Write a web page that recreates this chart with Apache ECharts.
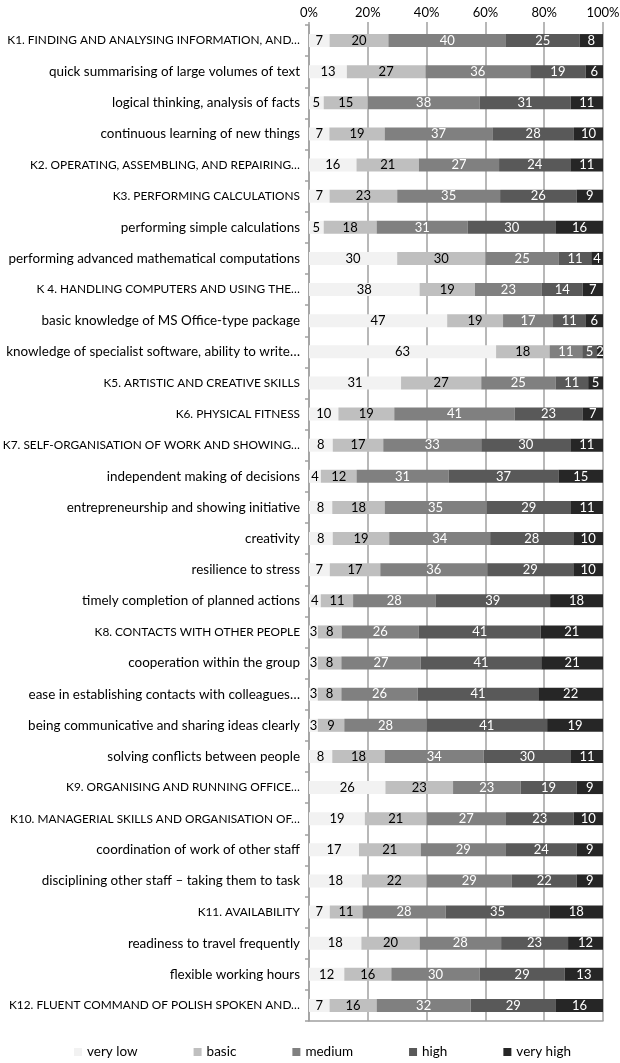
<!DOCTYPE html>
<html>
<head>
<meta charset="utf-8">
<script src="https://cdn.jsdelivr.net/npm/echarts@6/dist/echarts.min.js"></script>
<style>
html,body{margin:0;padding:0;background:#fff;}
#chart{width:620px;height:1063px;}
</style>
</head>
<body>
<div id="chart"></div>
<script>
const categories = [
  "K1. FINDING AND ANALYSING INFORMATION, AND…",
  "quick summarising of large volumes of text",
  "logical thinking, analysis of facts",
  "continuous learning of new things",
  "K2. OPERATING, ASSEMBLING, AND REPAIRING…",
  "K3. PERFORMING CALCULATIONS",
  "performing simple calculations",
  "performing advanced mathematical computations",
  "K 4. HANDLING COMPUTERS AND USING THE…",
  "basic knowledge of MS Office-type package",
  "knowledge of specialist software, ability to write…",
  "K5. ARTISTIC AND CREATIVE SKILLS",
  "K6. PHYSICAL FITNESS",
  "K7. SELF-ORGANISATION OF WORK AND SHOWING…",
  "independent making of decisions",
  "entrepreneurship and showing initiative",
  "creativity",
  "resilience to stress",
  "timely completion of planned actions",
  "K8. CONTACTS WITH OTHER PEOPLE",
  "cooperation within the group",
  "ease in establishing contacts with colleagues…",
  "being communicative and sharing ideas clearly",
  "solving conflicts between people",
  "K9. ORGANISING AND RUNNING OFFICE…",
  "K10. MANAGERIAL SKILLS AND ORGANISATION OF…",
  "coordination of work of other staff",
  "disciplining other staff – taking them to task",
  "K11. AVAILABILITY",
  "readiness to travel frequently",
  "flexible working hours",
  "K12. FLUENT COMMAND OF POLISH SPOKEN AND…"
];
const seriesNames = ["very low", "basic", "medium", "high", "very high"];
const veryLow  = [7,13,5,7,16,7,5,30,38,47,63,31,10,8,4,8,8,7,4,3,3,3,3,8,26,19,17,18,7,18,12,7];
const basic    = [20,27,15,19,21,23,18,30,19,19,18,27,19,17,12,18,19,17,11,8,8,8,9,18,23,21,21,22,11,20,16,16];
const medium   = [40,36,38,37,27,35,31,25,23,17,11,25,41,33,31,35,34,36,28,26,27,26,28,34,23,27,29,29,28,28,30,32];
const high     = [25,19,31,28,24,26,30,11,14,11,5,11,23,30,37,29,28,29,39,41,41,41,41,30,19,23,24,22,35,23,29,29];
const veryHigh = [8,6,11,10,11,9,16,4,7,6,2,5,7,11,15,11,10,10,18,21,21,22,19,11,9,10,9,9,18,12,13,16];
const xTicks = [0, 20, 40, 60, 80, 100];

const raw = [veryLow, basic, medium, high, veryHigh];
const colors = ["#f2f2f2", "#bfbfbf", "#808080", "#595959", "#262626"];
const labelColors = ["#000", "#000", "#fff", "#fff", "#fff"];
const FONT = "Lato";

const rowSums = categories.map((_, i) => raw.reduce((s, arr) => s + arr[i], 0));

const series = raw.map((arr, k) => ({
  name: seriesNames[k],
  type: "bar",
  stack: "total",
  barWidth: 13,
  itemStyle: { color: colors[k] },
  label: {
    show: true,
    position: "inside",
    color: labelColors[k],
    fontFamily: FONT,
    fontSize: 13,
    formatter: p => String(arr[p.dataIndex])
  },
  data: arr.map((v, i) => v / rowSums[i] * 100)
}));

const chart = echarts.init(document.getElementById("chart"), null, { renderer: "canvas" });
chart.setOption({
  animation: false,
  textStyle: { fontFamily: FONT },
  grid: { left: 309, right: 17, top: 25, bottom: 42, containLabel: false, outerBoundsMode: "none" },
  legend: {
    data: seriesNames,
    left: 69,
    top: 1040,
    icon: "rect",
    itemWidth: 8,
    itemHeight: 8,
    itemGap: 56,
    textStyle: { fontFamily: FONT, fontSize: 13.5, color: "#000" }
  },
  xAxis: [{
    type: "value",
    position: "top",
    min: xTicks[0],
    max: xTicks[xTicks.length - 1],
    interval: 20,
    axisLine: { show: false },
    axisTick: { show: true, length: 3, lineStyle: { color: "#a0a0a0", width: 1.5 } },
    axisLabel: { formatter: "{value}%", fontFamily: FONT, fontSize: 13, color: "#000", margin: 6 },
    splitLine: { show: true, lineStyle: { color: "#a0a0a0", width: 1.5 } }
  }, {
    type: "value",
    position: "bottom",
    min: 0,
    max: 100,
    axisLine: { show: true, onZero: false, lineStyle: { color: "#a0a0a0", width: 1.5 } },
    axisTick: { show: false },
    axisLabel: { show: false },
    splitLine: { show: false }
  }],
  yAxis: {
    type: "category",
    inverse: true,
    data: categories,
    axisLine: { show: true, lineStyle: { color: "#a0a0a0", width: 1.5 } },
    axisTick: { show: true, length: 4, lineStyle: { color: "#a0a0a0", width: 1.5 } },
    axisLabel: {
      fontFamily: FONT, color: "#000", margin: 9,
      formatter: v => /^K\s?\d/.test(v) ? "{caps|" + v + "}" : "{low|" + v + "}",
      rich: {
        caps: { fontFamily: FONT, fontSize: 11.85, color: "#000" },
        low: { fontFamily: FONT, fontSize: 13.45, color: "#000" }
      }
    }
  },
  series: series
});
</script>
</body>
</html>
